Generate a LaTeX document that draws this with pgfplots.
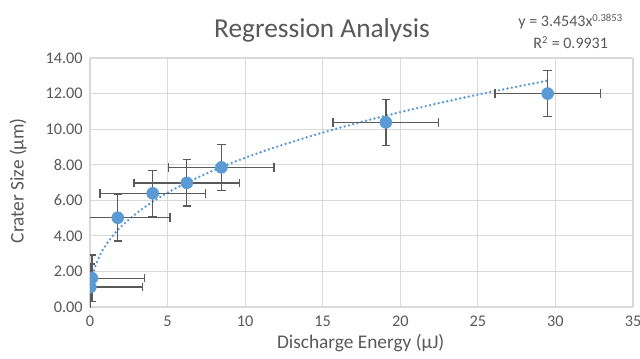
\documentclass[border=0pt]{standalone}
\usepackage{pgfplots}
\pgfplotsset{compat=1.18}
\usepackage{fontspec}
\setmainfont{Carlito}
\definecolor{exblue}{HTML}{5B9BD5}
\definecolor{txtgray}{HTML}{595959}
\definecolor{gridgray}{HTML}{D9D9D9}
\definecolor{errgray}{HTML}{5A5A5A}
\begin{document}
\begin{tikzpicture}[x=1pt,y=1pt]
\path[use as bounding box,fill=white] (0,0) rectangle (480,268.5);
\begin{axis}[
  at={(67.5pt,38.25pt)}, anchor=south west,
  scale only axis, width=407.25pt, height=186.75pt,
  xmin=0, xmax=35, ymin=0, ymax=14,
  xtick={0,5,...,35}, ytick={0,2,...,14},
  grid=major, major grid style={gridgray, line width=0.9pt},
  axis line style={gridgray, line width=0.9pt},
  tick style={draw=none},
  axis x line*=bottom, axis y line*=left,
  /pgf/number format/assume math mode=true,
  ticklabel style={font=\fontsize{12.2}{14}\selectfont, text=txtgray},
  xticklabel style={yshift=-3pt},
  yticklabel style={xshift=-2pt, /pgf/number format/.cd, fixed, fixed zerofill, precision=2},
  clip marker paths=true,
]
\addplot[exblue, dash pattern=on 0pt off 3.3pt, line cap=round, line width=2pt, smooth, forget plot] coordinates {
(0.05,1.089) (0.1,1.422) (0.2,1.858) (0.4,2.427) (0.7,3.011) (1,3.454) (1.5,4.039) (2,4.512)
(3,5.275) (4,5.893) (5,6.422) (6,6.889) (8,7.697) (10,8.389) (12,8.998) (15,9.806)
(18,10.520) (21,11.164) (24,11.754) (27,12.299) (29.5,12.726)};
\addplot[only marks, mark=*, mark size=4.5pt, mark options={fill=exblue, draw=exblue},
  error bars/.cd, x dir=both, y dir=both, x explicit, y explicit,
  error bar style={errgray, line width=1pt},
  error mark options={errgray, line width=1pt, mark size=3.2pt, rotate=90}]
  table[x=x, y=y, x error=ex, y error=ey] {
x y ex ey
0.02 1.12 3.35 1.3
0.12 1.62 3.40 1.3
1.79 5.02 3.37 1.3
4.04 6.39 3.40 1.3
6.24 6.98 3.41 1.3
8.47 7.85 3.40 1.3
19.07 10.38 3.40 1.3
29.50 12.00 3.40 1.3
};
\end{axis}
\node[text=txtgray, font=\fontsize{20.5}{24}\selectfont] at (241.5,245.5) {Regression Analysis};
\node[text=txtgray, font=\fontsize{12}{16.5}\selectfont, align=center] at (428,245) {y = 3.4543x\textsuperscript{0.3853}\\R\textsuperscript{2} = 0.9931};
\node[text=txtgray, font=\fontsize{14.5}{17}\selectfont, rotate=90] at (13.5,133) {Crater Size (μm)};
\node[text=txtgray, font=\fontsize{14.5}{17}\selectfont] at (270.5,11.5) {Discharge Energy (μJ)};
\end{tikzpicture}
\end{document}
